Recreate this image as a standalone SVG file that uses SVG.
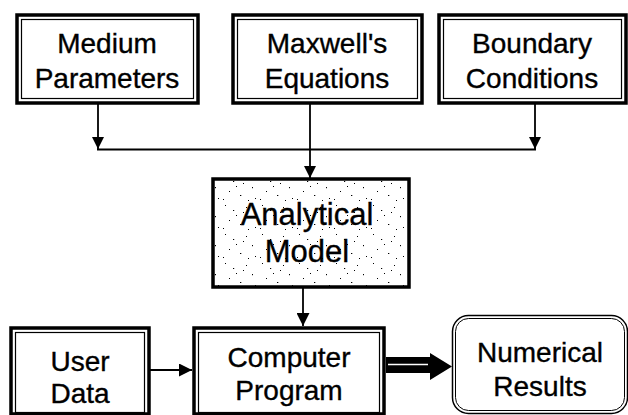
<svg xmlns="http://www.w3.org/2000/svg" width="628" height="415" viewBox="0 0 628 415">
  <defs>
    <style>
      .outer { fill: #fff; stroke: #000; stroke-width: 3.5; }
      .inner { fill: none; stroke: #000; stroke-width: 1.2; }
      .lbl { font-family: "Liberation Sans", Arial, sans-serif; font-size: 28px; fill: #000; stroke: #000; stroke-width: 0.35; text-anchor: middle; }
      .big { font-size: 31px; }
      .wire { fill: none; stroke: #000; stroke-width: 1.8; }
    </style>
    <marker id="tri" viewBox="0 0 12 12" refX="12" refY="6" markerWidth="12" markerHeight="12" markerUnits="userSpaceOnUse" orient="auto">
      <path d="M0,0 L12,6 L0,12 z" fill="#000"/>
    </marker>
    <marker id="tri2" viewBox="0 0 13 13" refX="13" refY="6.5" markerWidth="13" markerHeight="13" markerUnits="userSpaceOnUse" orient="auto">
      <path d="M0,0 L13,6.5 L0,13 z" fill="#000"/>
    </marker>
    <!-- sparse speckle used as fill of the model box -->
    <pattern id="speckle" width="37" height="29" patternUnits="userSpaceOnUse">
      <rect width="37" height="29" fill="#fff"/>
      <g fill="#000">
        <rect x="3" y="2" width="1" height="1"/>
        <rect x="11" y="7" width="1.2" height="1"/>
        <rect x="24" y="4" width="1" height="1"/>
        <rect x="30" y="13" width="1" height="1.2"/>
        <rect x="7" y="17" width="1" height="1"/>
        <rect x="18" y="21" width="1.3" height="1"/>
        <rect x="33" y="24" width="1" height="1"/>
        <rect x="14" y="12" width="1" height="1"/>
        <rect x="26" y="26" width="1" height="1"/>
        <rect x="1" y="25" width="1" height="1"/>
        <rect x="21" y="9" width="1" height="1"/>
      </g>
    </pattern>
  </defs>

  <!-- connectors -->
  <g id="connectors">
    <line class="wire" x1="98" y1="104" x2="98" y2="149" marker-end="url(#tri)"/>
    <line class="wire" x1="535" y1="104" x2="535" y2="149" marker-end="url(#tri)"/>
    <line class="wire" x1="97" y1="149.5" x2="536" y2="149.5"/>
    <line class="wire" x1="310" y1="104" x2="310" y2="178" marker-end="url(#tri)"/>
    <line class="wire" x1="303" y1="288" x2="303" y2="326" marker-end="url(#tri2)"/>
    <line class="wire" x1="150" y1="370" x2="192" y2="370" marker-end="url(#tri2)"/>
    <!-- wide output arrow -->
    <path d="M386,357 L430,357 L430,353 L452,366.5 L430,380 L430,373 L386,373 z" fill="#000"/>
    <line x1="388" y1="364.5" x2="428" y2="364.5" stroke="#fff" stroke-width="1.5"/>
  </g>

  <g id="medium">
    <rect class="outer" x="17" y="15" width="181" height="88"/>
    <rect class="inner" x="21.5" y="19.5" width="172" height="79"/>
    <text class="lbl" x="107" y="53">Medium</text>
    <text class="lbl" x="107" y="88">Parameters</text>
  </g>

  <g id="maxwell">
    <rect class="outer" x="233" y="15" width="189" height="88"/>
    <rect class="inner" x="237.5" y="19.5" width="180" height="79"/>
    <text class="lbl" x="327" y="53">Maxwell's</text>
    <text class="lbl" x="327" y="88">Equations</text>
  </g>

  <g id="boundary">
    <rect class="outer" x="439" y="15" width="187" height="88"/>
    <rect class="inner" x="443.5" y="19.5" width="178" height="79"/>
    <text class="lbl" x="532" y="53">Boundary</text>
    <text class="lbl" x="532" y="88">Conditions</text>
  </g>

  <g id="model">
    <rect x="213" y="179" width="196" height="108" fill="url(#speckle)" stroke="#000" stroke-width="3.5"/>
    <text class="lbl big" x="307" y="225">Analytical</text>
    <text class="lbl big" x="307" y="262">Model</text>
  </g>

  <g id="userdata">
    <rect class="outer" x="11" y="328" width="138" height="86"/>
    <rect class="inner" x="15.5" y="332.5" width="129" height="80"/>
    <text class="lbl" x="80" y="371">User</text>
    <text class="lbl" x="80" y="403">Data</text>
  </g>

  <g id="program">
    <rect class="outer" x="194" y="328" width="190" height="86"/>
    <rect class="inner" x="198.5" y="332.5" width="181" height="80"/>
    <text class="lbl" x="289" y="367">Computer</text>
    <text class="lbl" x="289" y="400">Program</text>
  </g>

  <g id="results">
    <rect x="452.5" y="315.5" width="175" height="98" rx="16" fill="#fff" stroke="#000" stroke-width="1.5"/>
    <rect x="455.5" y="318.5" width="169" height="92" rx="13" fill="none" stroke="#000" stroke-width="1"/>
    <text class="lbl" x="540" y="362">Numerical</text>
    <text class="lbl" x="540" y="396">Results</text>
  </g>
</svg>
